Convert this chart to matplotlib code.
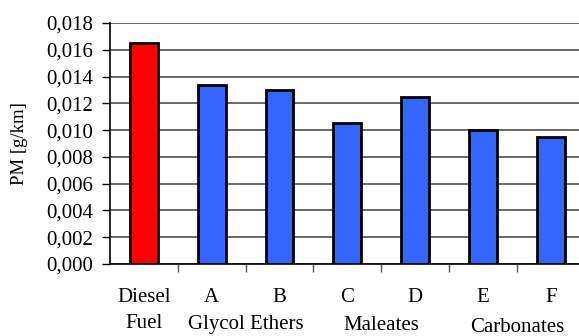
import matplotlib
matplotlib.use("Agg")
import matplotlib.pyplot as plt
from matplotlib.transforms import blended_transform_factory, offset_copy

categories = ["Diesel", "A", "B", "C", "D", "E", "F"]
values = [0.0165, 0.0134, 0.0130, 0.0105, 0.0125, 0.0100, 0.0095]
colors = ["#FF0000", "#3366FF", "#3366FF", "#3366FF", "#3366FF", "#3366FF", "#3366FF"]
groups = [("Fuel", [0]), ("Glycol Ethers", [1, 2]), ("Maleates", [3, 4]), ("Carbonates", [5, 6])]
group_dy = [-60, -61, -62, -63]
yticks = [0.000, 0.002, 0.004, 0.006, 0.008, 0.010, 0.012, 0.014, 0.016, 0.018]

plt.rcParams["font.family"] = ["Liberation Serif", "DejaVu Serif"]
fig = plt.figure(figsize=(5.79, 3.36), dpi=100)
ax = fig.add_axes([110/579, 1-264/336, 474.6/579, (264-23)/336])

x = list(range(len(categories)))
ax.set_axisbelow(True)
for yv in yticks:
    ax.axhline(yv, color="#404040", lw=1.1, zorder=0)
ax.bar(x, values, width=0.41, color=colors, edgecolor="black", linewidth=2, zorder=3)

ax.set_xlim(-0.5, len(categories) - 0.5)
ax.set_ylim(0, 0.018)
ax.set_yticks(yticks)
ax.set_yticklabels([f"{v:.3f}".replace(".", ",") for v in yticks], fontsize=15)
ax.tick_params(axis="y", direction="out", length=6, width=1, color="black", pad=6)
ax.set_xticks([i + 0.5 for i in range(len(categories) - 1)])
ax.set_xticklabels([])
ax.tick_params(axis="x", direction="out", length=6, width=1, color="#555555")
for s in ["top", "right"]:
    ax.spines[s].set_visible(False)
ax.spines["left"].set_linewidth(1.2)
ax.spines["bottom"].set_linewidth(1.2)

ax.set_ylabel("PM [g/km]", fontsize=13.5)
ax.yaxis.set_label_coords(-82/474.6, 0.5)

tr = blended_transform_factory(ax.transData, ax.transAxes)
for i, c in enumerate(categories):
    ax.text(i, 0, c, transform=offset_copy(tr, fig=fig, x=0, y=-34, units="dots"),
            ha="center", va="center", fontsize=15)
for (name, idx), dy in zip(groups, group_dy):
    cx = sum(idx) / len(idx)
    ax.text(cx, 0, name, transform=offset_copy(tr, fig=fig, x=0, y=dy, units="dots"),
            ha="center", va="center", fontsize=15)

fig.savefig("out.png", dpi=100)
